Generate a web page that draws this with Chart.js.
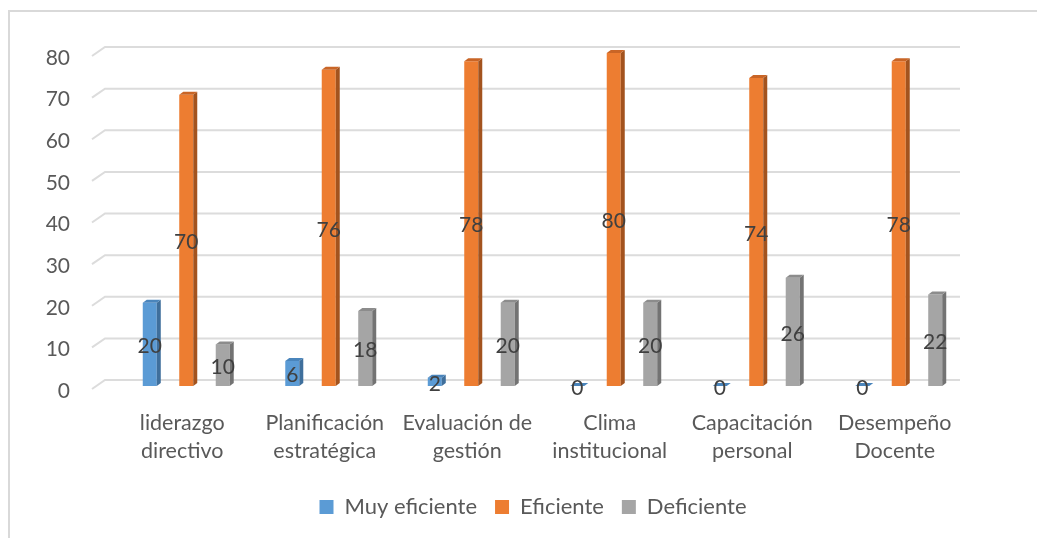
<!DOCTYPE html>
<html>
<head>
<meta charset="utf-8">
<script src="https://cdn.jsdelivr.net/npm/chart.js@4/dist/chart.umd.min.js"></script>
<style>
  html, body { margin: 0; padding: 0; background: #ffffff; }
  #wrap { position: relative; width: 1037px; height: 538px; }
</style>
</head>
<body>
<div id="wrap"><canvas id="c" width="1037" height="538"></canvas></div>
<script>
// Categories (two-line labels) and series values
const categories = [
  ['liderazgo', 'directivo'],
  ['Planificación', 'estratégica'],
  ['Evaluación de', 'gestión'],
  ['Clima', 'institucional'],
  ['Capacitación', 'personal'],
  ['Desempeño', 'Docente']
];
const seriesNames = ['Muy eficiente', 'Eficiente', 'Deficiente'];
const muyEficiente = [20, 6, 2, 0, 0, 0];
const eficiente = [70, 76, 78, 80, 74, 78];
const deficiente = [10, 18, 20, 20, 26, 22];
const yTicks = [0, 10, 20, 30, 40, 50, 60, 70, 80];

const FONT = 'Lato, "Open Sans", sans-serif';
const TEXT = '#595959';

// front / side / top colours for each series
const faces = [
  { front: '#5B9BD5', side: '#3F6F9C', top: '#4A85BC' },
  { front: '#ED7D31', side: '#A3531E', top: '#C96526' },
  { front: '#A5A5A5', side: '#737373', top: '#8C8C8C' }
];
const DEPTH_X = 4, DEPTH_Y = 3;
const LEGEND_CENTER_X = 533;

// outer frame
const framePlugin = {
  id: 'frame',
  beforeDraw(chart) {
    const ctx = chart.ctx;
    ctx.save();
    ctx.fillStyle = '#ffffff';
    ctx.fillRect(0, 0, chart.width, chart.height);
    ctx.strokeStyle = '#d9d9d9';
    ctx.lineWidth = 2;
    ctx.strokeRect(9, 11, 2000, 2000);
    ctx.restore();
  }
};

// place the legend row around a fixed centre line
const legendCenterPlugin = {
  id: 'legendCenter',
  afterLayout(chart) {
    const lg = chart.legend;
    if (!lg) return;
    const shift = LEGEND_CENTER_X - (lg.left + lg.right) / 2;
    lg.left += shift;
    lg.right += shift;
  }
};

// back-wall gridlines with a short receding edge on the left
const wallGridPlugin = {
  id: 'wallGrid',
  beforeDatasetsDraw(chart) {
    const ctx = chart.ctx, y = chart.scales.y, area = chart.chartArea;
    ctx.save();
    ctx.strokeStyle = '#dcdcdc';
    ctx.lineWidth = 2;
    y.ticks.forEach(t => {
      const py = y.getPixelForValue(t.value);
      const fy = py + 3, by = py - 6;
      ctx.beginPath();
      ctx.moveTo(area.left - 23, fy);
      ctx.lineTo(area.left - 10, by);
      ctx.lineTo(area.right - 10, by);
      ctx.stroke();
    });
    ctx.restore();
  }
};

// side and top faces of each column, then the value labels
const columnPlugin = {
  id: 'columns3d',
  afterDatasetsDraw(chart) {
    const ctx = chart.ctx;
    ctx.save();
    chart.data.datasets.forEach((ds, di) => {
      const meta = chart.getDatasetMeta(di);
      const f = faces[di];
      meta.data.forEach(bar => {
        const { x, y, base, width } = bar.getProps(['x', 'y', 'base', 'width'], true);
        const l = x - width / 2, r = x + width / 2;
        // side
        ctx.fillStyle = f.side;
        ctx.beginPath();
        ctx.moveTo(r, y);
        ctx.lineTo(r + DEPTH_X, y - DEPTH_Y);
        ctx.lineTo(r + DEPTH_X, base - DEPTH_Y);
        ctx.lineTo(r, base);
        ctx.closePath();
        ctx.fill();
        // top
        ctx.fillStyle = f.top;
        ctx.beginPath();
        ctx.moveTo(l, y);
        ctx.lineTo(l + DEPTH_X, y - DEPTH_Y);
        ctx.lineTo(r + DEPTH_X, y - DEPTH_Y);
        ctx.lineTo(r, y);
        ctx.closePath();
        ctx.fill();
      });
    });
    ctx.fillStyle = '#404040';
    ctx.font = '21px ' + FONT;
    ctx.textAlign = 'center';
    ctx.textBaseline = 'middle';
    chart.data.datasets.forEach((ds, di) => {
      const meta = chart.getDatasetMeta(di);
      meta.data.forEach((bar, i) => {
        const { x, y, base } = bar.getProps(['x', 'y', 'base'], true);
        ctx.fillText(String(ds.data[i]), x, (y + base) / 2 + 2);
      });
    });
    ctx.restore();
  }
};

const datasets = [muyEficiente, eficiente, deficiente].map((vals, i) => ({
  label: seriesNames[i],
  data: vals,
  backgroundColor: faces[i].front,
  borderWidth: 0,
  categoryPercentage: 0.768,
  barPercentage: 0.384
}));

new Chart(document.getElementById('c'), {
  type: 'bar',
  data: { labels: categories, datasets },
  plugins: [framePlugin, legendCenterPlugin, wallGridPlugin, columnPlugin],
  options: {
    responsive: false,
    animation: false,
    events: [],
    layout: { padding: { top: 53, right: 67, bottom: 10, left: 0 } },
    plugins: {
      tooltip: { enabled: false },
      legend: {
        position: 'bottom',
        labels: {
          font: { family: FONT, size: 22 },
          color: TEXT,
          boxWidth: 14,
          boxHeight: 14,
          padding: 18
        }
      }
    },
    scales: {
      x: {
        grid: { display: false, drawTicks: false },
        border: { display: false },
        ticks: {
          font: { family: FONT, size: 21.5, lineHeight: 1.3 },
          color: TEXT,
          padding: 23,
          labelOffset: -4,
          maxRotation: 0,
          autoSkip: false
        },
        afterFit(s) { s.height = 92; s.paddingLeft = 0; s.paddingRight = 0; }
      },
      y: {
        min: 0,
        max: 80,
        afterBuildTicks(s) { s.ticks = yTicks.map(v => ({ value: v })); },
        grid: { display: false, drawTicks: false },
        border: { display: false },
        ticks: {
          font: { family: FONT, size: 21 },
          color: TEXT,
          padding: 45,
          labelOffset: 5
        },
        afterFit(s) { s.width = 115; s.paddingTop = 0; s.paddingBottom = 0; }
      }
    }
  }
});
</script>
</body>
</html>
